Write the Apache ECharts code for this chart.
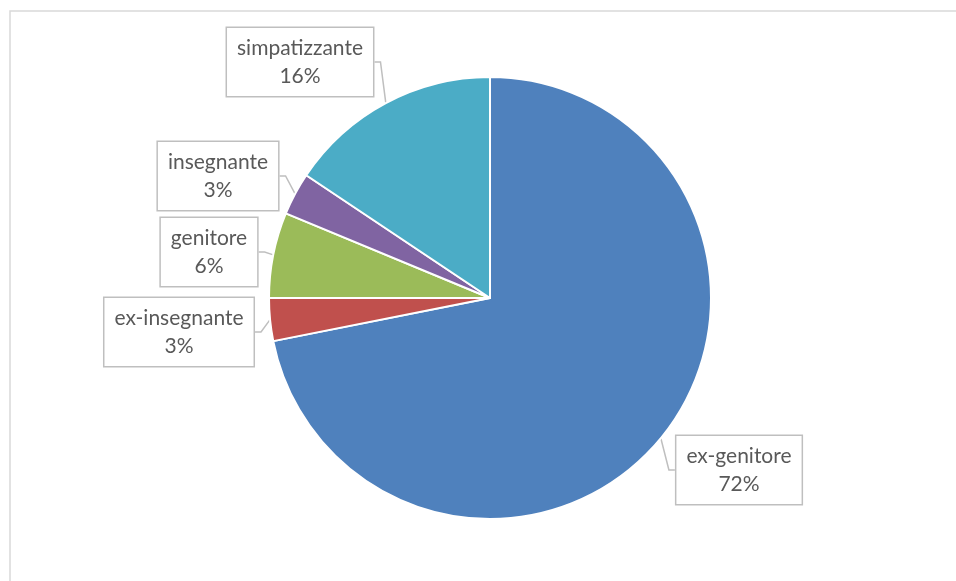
<!DOCTYPE html>
<html>
<head>
<meta charset="utf-8">
<script src="https://cdn.jsdelivr.net/npm/echarts@6/dist/echarts.min.js"></script>
<style>
  html, body { margin: 0; padding: 0; background: #fff; }
  #chart { width: 956px; height: 581px; }
</style>
</head>
<body>
<div id="chart"></div>
<script>
// categorie e conteggi (percentuali calcolate da echarts)
var categories = ['ex-genitore', 'ex-insegnante', 'genitore', 'insegnante', 'simpatizzante'];
var counts = [23, 1, 2, 1, 5];
var colors = ['#4f81bd', '#c0504d', '#9bbb59', '#8064a2', '#4bacc6'];

// centro dei riquadri delle etichette
var labelBoxes = [[739, 470], [179, 332], [209, 252], [218, 176], [300, 62]];

var chart = echarts.init(document.getElementById('chart'));

var option = {
    animation: false,
    graphic: [{
        type: 'rect',
        shape: { x: 10, y: 11, width: 1000, height: 700 },
        style: { fill: 'none', stroke: '#d9d9d9', lineWidth: 1.5 },
        silent: true
    }],
    series: [{
        type: 'pie',
        center: [490, 298],
        radius: 221,
        startAngle: 90,
        clockwise: true,
        percentPrecision: 0,
        itemStyle: { borderColor: '#fff', borderWidth: 2 },
        data: categories.map(function (c, i) {
            return { name: c, value: counts[i], itemStyle: { color: colors[i] } };
        }),
        label: {
            show: true,
            position: 'outside',
            formatter: '{b}\n{d}%',
            fontFamily: 'Lato',
            fontSize: 21,
            lineHeight: 28,
            color: '#595959',
            align: 'center',
            backgroundColor: '#fff',
            borderColor: '#bfbfbf',
            borderWidth: 1.5,
            padding: [6, 10, 6, 10]
        },
        labelLine: {
            show: true,
            length: 8,
            length2: 6,
            lineStyle: { color: '#bfbfbf', width: 1.5 }
        },
        labelLayout: function (params) {
            var b = labelBoxes[params.dataIndex];
            return { x: b[0], y: b[1], align: 'center', verticalAlign: 'middle' };
        }
    }]
};

chart.setOption(option);
</script>
</body>
</html>
